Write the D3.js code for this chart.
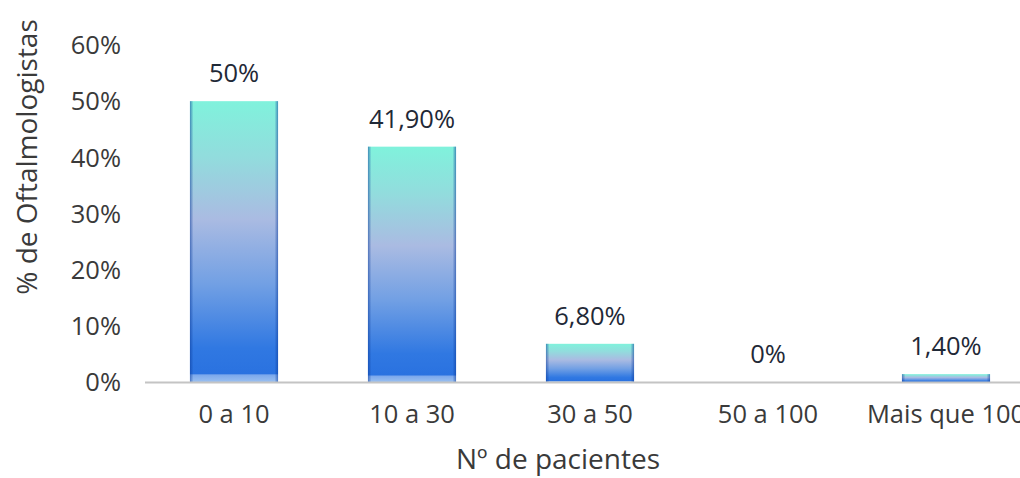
<!DOCTYPE html>
<html><head><meta charset="utf-8">
<script src="https://cdn.jsdelivr.net/npm/d3@7"></script>
<style>body{margin:0;background:#fff}</style>
</head><body>
<svg id="c" width="1020" height="478"></svg>
<script>
const categories = ["0 a 10","10 a 30","30 a 50","50 a 100","Mais que 100"];
const values = [50, 41.9, 6.8, 0, 1.4];
const valueLabels = ["50%","41,90%","6,80%","0%","1,40%"];
const yTicks = [0,10,20,30,40,50,60];
const yTickLabels = ["0%","10%","20%","30%","40%","50%","60%"];
const yTitle = "% de Oftalmologistas";
const xTitle = "Nº de pacientes";

const svg = d3.select("#c");
const font = "'Open Sans', 'Noto Sans', sans-serif";
const fs = 25.5;
const x = d3.scaleBand().domain(categories).range([145, 1035]).paddingInner(0.505).paddingOuter(0.2525);
const y = d3.scaleLinear().domain([0,60]).range([382, 45]);

const defs = svg.append("defs");
const g = defs.append("linearGradient").attr("id","gv").attr("x1",0).attr("y1",0).attr("x2",0).attr("y2",1);
[[0,"#80F2DC"],[0.2,"#92DCDD"],[0.42,"#AABBE2"],[0.65,"#72A0E4"],[0.88,"#3078E2"],[0.97,"#2A72E0"],[0.975,"#7CA8EC"],[1,"#9AC0F0"]]
  .forEach(([o,c])=>g.append("stop").attr("offset",o).attr("stop-color",c));
const h = defs.append("linearGradient").attr("id","gh").attr("x1",0).attr("y1",0).attr("x2",1).attr("y2",0);
[[0,"#0a3a9a",0.55],[0.04,"#0a3a9a",0],[0.96,"#0a3a9a",0],[1,"#0a3a9a",0.55]]
  .forEach(([o,c,a])=>h.append("stop").attr("offset",o).attr("stop-color",c).attr("stop-opacity",a));

const data = categories.map((c,i)=>({c, v:values[i], l:valueLabels[i]}));

// y tick labels
svg.append("g").selectAll("text").data(yTicks).join("text")
  .attr("x",121).attr("y",d=>y(d)).attr("dy","0.36em")
  .attr("text-anchor","end").attr("font-family",font).attr("font-size",fs).attr("fill","#3a3a3a")
  .text((d,i)=>yTickLabels[i]);

// bars
const bars = svg.append("g");
bars.selectAll("rect.b").data(data.filter(d=>d.v>0)).join("rect").attr("class","b")
  .attr("x",d=>x(d.c)).attr("width",x.bandwidth())
  .attr("y",d=>y(d.v)).attr("height",d=>y(0)-y(d.v)).attr("fill","url(#gv)");
bars.selectAll("rect.e").data(data.filter(d=>d.v>0)).join("rect").attr("class","e")
  .attr("x",d=>x(d.c)).attr("width",x.bandwidth())
  .attr("y",d=>y(d.v)).attr("height",d=>y(0)-y(d.v)).attr("fill","url(#gh)");

// axis line
svg.append("line").attr("x1",145).attr("x2",1020).attr("y1",y(0)+0.5).attr("y2",y(0)+0.5)
  .attr("stroke","#c4c4c4").attr("stroke-width",2);

// value labels
svg.append("g").selectAll("text").data(data).join("text")
  .attr("x",d=>x(d.c)+x.bandwidth()/2).attr("y",d=>y(d.v)-19)
  .attr("text-anchor","middle").attr("font-family",font).attr("font-size",fs).attr("fill","#1f2937")
  .text(d=>d.l);

// category labels
svg.append("g").selectAll("text").data(categories).join("text")
  .attr("x",d=>x(d)+x.bandwidth()/2).attr("y",423)
  .attr("text-anchor","middle").attr("font-family",font).attr("font-size",fs).attr("fill","#3a3a3a")
  .text(d=>d);

// titles
svg.append("text").attr("x",558).attr("y",469).attr("text-anchor","middle")
  .attr("font-family",font).attr("font-size",28).attr("fill","#3a3a3a").text(xTitle);
svg.append("text").attr("transform","translate(37,157) rotate(-90)").attr("text-anchor","middle")
  .attr("font-family",font).attr("font-size",28).attr("fill","#3a3a3a").text(yTitle);
</script>
</body></html>
